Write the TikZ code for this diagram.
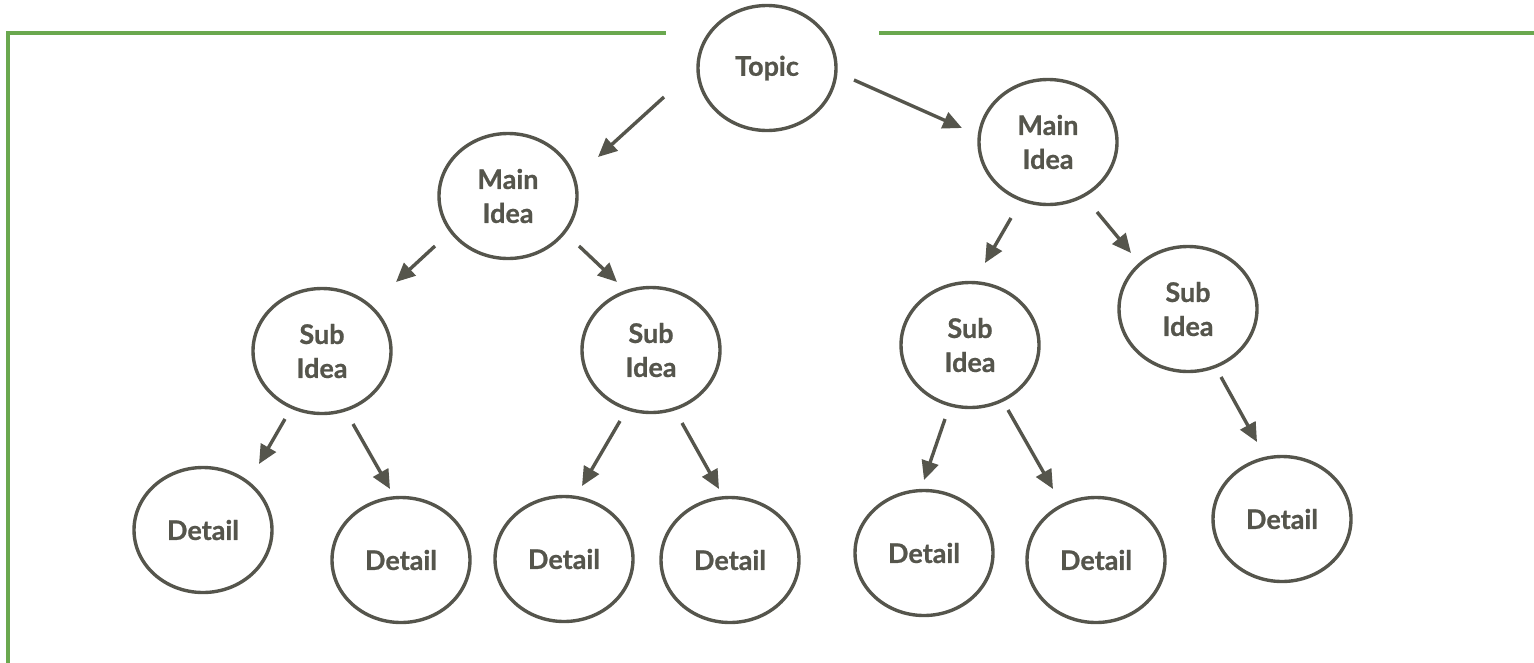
\documentclass[tikz,border=0pt]{standalone}
\usepackage{fontspec}
\setmainfont{Lato}[BoldFeatures={FakeBold=0.8}]
\usetikzlibrary{shapes.geometric,arrows.meta}
\definecolor{ink}{HTML}{55554C}
\definecolor{frame}{HTML}{6AA84F}
\tikzset{
  bubble/.style={ellipse, draw=ink, line width=3.4pt, minimum width=138pt, minimum height=125pt,
    inner sep=0pt, align=center, text=ink, font=\fontsize{27}{34}\selectfont\bfseries},
  link/.style={draw=ink, line width=3.4pt, -{Triangle[length=19pt,width=17pt]}},
  frameline/.style={draw=frame, line width=3.6pt}
}
\begin{document}
\begin{tikzpicture}[x=1pt,y=-1pt]
\useasboundingbox (0,0) rectangle (1534,662);
% frame
\coordinate (fa) at (8,663);
\coordinate (fb) at (8,33);
\coordinate (fc) at (666,33);
\coordinate (fd) at (879,33);
\coordinate (fe) at (1535,33);
\draw[frameline] (fa) -- (fb) -- (fc);
\draw[frameline] (fd) -- (fe);
% nodes
\node[bubble] (topic) at (767,68) {Topic};
\node[bubble] (mainL) at (508,196) {Main\\Idea};
\node[bubble] (mainR) at (1048,142) {Main\\Idea};
\node[bubble] (subA) at (322,351) {Sub\\Idea};
\node[bubble] (subB) at (651,350) {Sub\\Idea};
\node[bubble] (subC) at (970,345) {Sub\\Idea};
\node[bubble] (subD) at (1188,309) {Sub\\Idea};
\node[bubble] (detA) at (203,530) {Detail};
\node[bubble] (detB) at (401,560) {Detail};
\node[bubble] (detC) at (564,559) {Detail};
\node[bubble] (detD) at (730,560) {Detail};
\node[bubble] (detE) at (924,553) {Detail};
\node[bubble] (detF) at (1096,560) {Detail};
\node[bubble] (detG) at (1282,519) {Detail};
% connector ends
\coordinate (a1s) at (664,97);   \coordinate (a1e) at (598,157);
\coordinate (a2s) at (854,80);   \coordinate (a2e) at (962,128);
\coordinate (a3s) at (435,246);  \coordinate (a3e) at (396,282);
\coordinate (a4s) at (579,246);  \coordinate (a4e) at (617,282);
\coordinate (a5s) at (285,419);  \coordinate (a5e) at (259,464);
\coordinate (a6s) at (353,424);  \coordinate (a6e) at (390,489);
\coordinate (a7s) at (620,421);  \coordinate (a7e) at (582,486);
\coordinate (a8s) at (682,423);  \coordinate (a8e) at (719,489);
\coordinate (a9s) at (1011,218); \coordinate (a9e) at (985,263);
\coordinate (a10s) at (1097,212); \coordinate (a10e) at (1131,253);
\coordinate (a11s) at (945,419); \coordinate (a11e) at (924,480);
\coordinate (a12s) at (1008,410); \coordinate (a12e) at (1053,489);
\coordinate (a13s) at (1221,377); \coordinate (a13e) at (1257,442);
\draw[link] (a1s) -- (a1e);
\draw[link] (a2s) -- (a2e);
\draw[link] (a3s) -- (a3e);
\draw[link] (a4s) -- (a4e);
\draw[link] (a5s) -- (a5e);
\draw[link] (a6s) -- (a6e);
\draw[link] (a7s) -- (a7e);
\draw[link] (a8s) -- (a8e);
\draw[link] (a9s) -- (a9e);
\draw[link] (a10s) -- (a10e);
\draw[link] (a11s) -- (a11e);
\draw[link] (a12s) -- (a12e);
\draw[link] (a13s) -- (a13e);
\end{tikzpicture}
\end{document}
